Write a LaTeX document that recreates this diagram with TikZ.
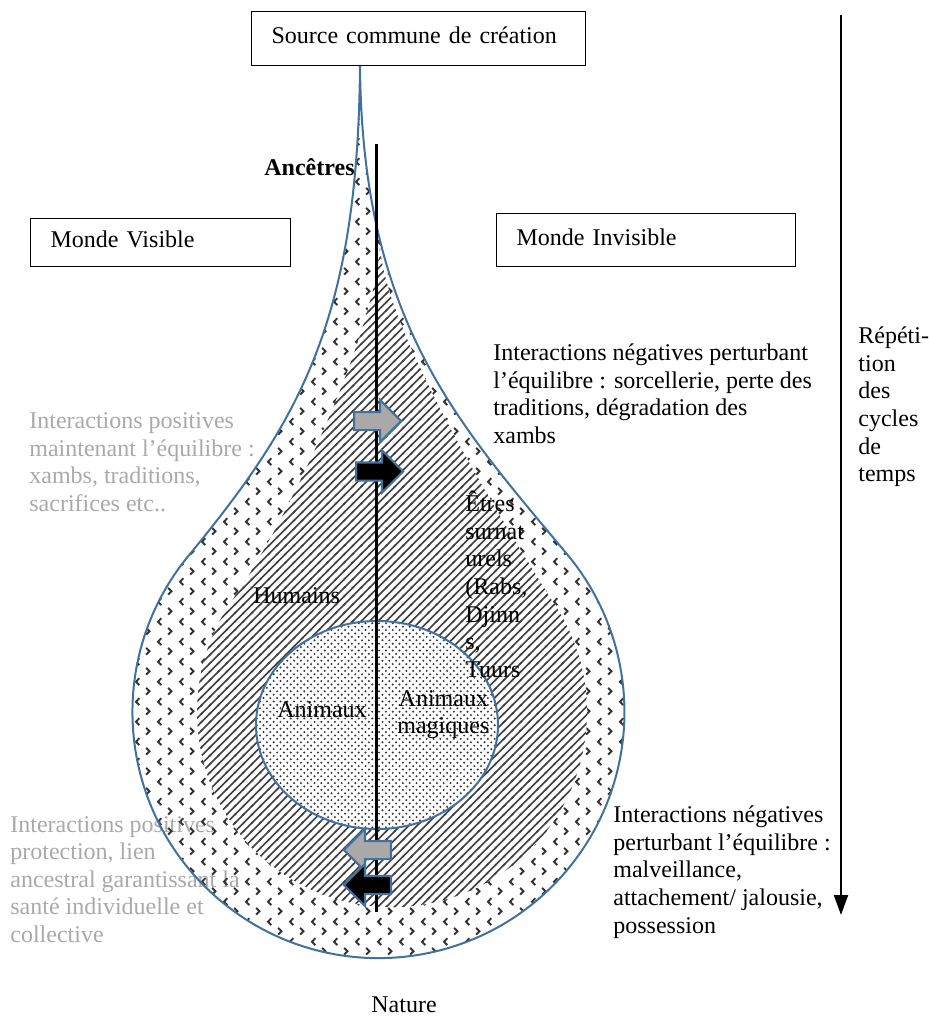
\documentclass[tikz,border=0pt]{standalone}
\usepackage{fontspec}
\setmainfont{Liberation Serif}
\usetikzlibrary{arrows.meta,shapes.arrows,patterns}
\definecolor{dropblue}{HTML}{41719C}
\definecolor{softgray}{HTML}{A9A9A9}
\definecolor{arrowgray}{HTML}{ABA8A8}
\definecolor{inkgray}{HTML}{333333}
\definecolor{hatchgray}{HTML}{404040}

\pgfdeclarepatternformonly{chevrons}{\pgfpointorigin}{\pgfqpoint{11pt}{10pt}}{\pgfqpoint{11pt}{10pt}}{%
  \pgfsetlinewidth{1pt}%
  \pgfpathmoveto{\pgfqpoint{3.8pt}{9.3pt}}\pgfpathlineto{\pgfqpoint{2.1pt}{7.5pt}}\pgfpathlineto{\pgfqpoint{3.8pt}{5.7pt}}%
  \pgfpathmoveto{\pgfqpoint{7.4pt}{4.3pt}}\pgfpathlineto{\pgfqpoint{9.1pt}{2.5pt}}\pgfpathlineto{\pgfqpoint{7.4pt}{0.7pt}}%
  \pgfusepath{stroke}}
\pgfdeclarepatternformonly{denselines}{\pgfqpoint{-1pt}{-1pt}}{\pgfqpoint{5.2pt}{5.2pt}}{\pgfqpoint{4.2pt}{4.2pt}}{%
  \pgfsetlinewidth{0.8pt}%
  \pgfpathmoveto{\pgfqpoint{-0.5pt}{-0.5pt}}\pgfpathlineto{\pgfqpoint{4.7pt}{4.7pt}}%
  \pgfusepath{stroke}}
\pgfdeclarepatternformonly{finedots}{\pgfqpoint{-0.5pt}{-0.5pt}}{\pgfqpoint{4pt}{4pt}}{\pgfqpoint{3.4pt}{3.4pt}}{%
  \pgfpathcircle{\pgfqpoint{0.85pt}{0.85pt}}{0.55pt}%
  \pgfpathcircle{\pgfqpoint{2.55pt}{2.55pt}}{0.55pt}%
  \pgfusepath{fill}}

\tikzset{
  lbox/.style={rectangle, draw=black, line width=0.6pt, anchor=north west, inner xsep=10pt, inner ysep=0pt,
               align=left, text height=8pt, text depth=3pt},
  txt/.style={anchor=north west, inner sep=0pt, align=left, execute at begin node=\strut},
  fadetxt/.style={txt, text=softgray},
  dropline/.style={draw=dropblue, line width=1pt},
  blockarrow/.style={single arrow, draw=dropblue, line width=1.1pt, minimum height=23.5pt, inner sep=4pt,
                     single arrow head extend=6pt, anchor=tail},
  posarrow/.style={blockarrow, fill=arrowgray},
  negarrow/.style={blockarrow, fill=black},
  midline/.style={line width=1.6pt},
  timeline/.style={line width=1pt, -{Triangle[width=7pt,length=10pt]}}
}

\begin{document}
\begin{tikzpicture}[x=0.5pt, y=0.5pt, every node/.style={font=\fontsize{12}{13.8}\selectfont}]
  \useasboundingbox (0,0) rectangle (928,-1016);
  % gray texts behind the drop
  \node[fadetxt] (postop) at (29,-412.4) {Interactions positives\\maintenant l’équilibre :\\xambs, traditions,\\sacrifices etc..};
  \node[fadetxt] (posbot) at (10,-815.7) {Interactions positives\\protection, lien\\ancestral garantissant la\\santé individuelle et\\collective};
  % drop, hatched world, animals
  \draw[dropline, pattern=chevrons, pattern color=inkgray] (360,-65) .. controls (358,-320) and (300,-420) .. (190,-554)
    arc[start angle=140, end angle=400, radius=246] .. controls (456,-421) and (362,-320) .. (360,-65) -- cycle;
  \path[preaction={fill=white}, pattern=denselines, pattern color=hatchgray] (380,-245) .. controls (376,-330) and (290,-518) .. (232.3,-600.2)
    arc[start angle=145, end angle=395, radius=195] .. controls (500,-518) and (384,-330) .. (380,-245) -- cycle;
  \draw[dropline, preaction={fill=white}, pattern=finedots, pattern color=inkgray] (377,-725) ellipse [x radius=121, y radius=104];

  \node[lbox, text width=147pt, minimum height=27pt] (src) at (251,-11) {Source commune de création};
  \node[lbox, text width=110pt, minimum height=24pt] (visible) at (30,-218) {Monde Visible};
  \node[lbox, text width=129.5pt, minimum height=26.5pt] (invisible) at (496,-213) {Monde Invisible};

  \coordinate (mtop) at (376.5,-144);
  \coordinate (mbot) at (376.5,-912);
  \draw[midline] (mtop) -- (mbot);
  \coordinate (ttop) at (841,-15);
  \coordinate (tbot) at (841,-915);
  \draw[timeline] (ttop) -- (tbot);

  \node[txt, font=\fontsize{12}{13.8}\selectfont\bfseries] (ancetres) at (264,-155.7) {Ancêtres};
  \node[txt] (negtop) at (493,-343.7) {Interactions négatives perturbant\\l’équilibre : sorcellerie, perte des\\traditions, dégradation des\\xambs};
  \node[txt] (etres) at (465,-490.7) {Êtres\\surnat\\urels\\(Rabs,\\Djinn\\s,\\Tuurs};
  \node[txt] (humains) at (253,-583.7) {Humains};
  \node[txt] (animaux) at (277,-697.7) {Animaux};
  \node[txt, align=center] (magiques) at (397,-689.7) {Animaux\\magiques};
  \node[txt] (negbot) at (613,-805.7) {Interactions négatives\\perturbant l’équilibre :\\malveillance,\\attachement/ jalousie,\\possession};
  \node[txt] (nature) at (371,-992.7) {Nature};
  \node[txt] (cycles) at (858,-326.7) {Répéti-\\tion\\des\\cycles\\de\\temps};

  \node[posarrow] (gsup) at (353,-421) {};
  \node[negarrow] (nsup) at (355,-471.5) {};
  \node[posarrow, shape border rotate=180] (ginf) at (392,-850) {};
  \node[negarrow, shape border rotate=180] (ninf) at (392,-885) {};
\end{tikzpicture}
\end{document}
